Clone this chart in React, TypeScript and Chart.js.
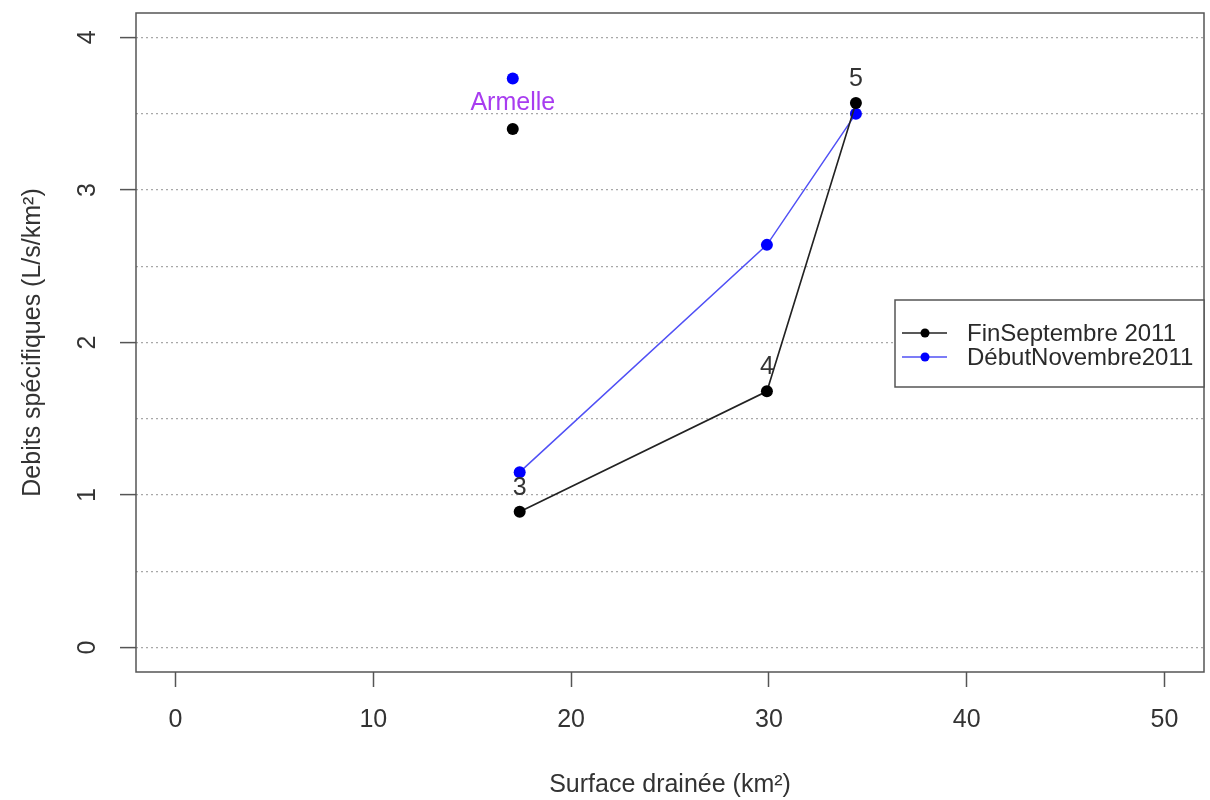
import React, { useEffect, useRef } from 'react';
import { Chart, registerables } from 'chart.js';

Chart.register(...registerables);

// ---- data ----
const surfaceKm2 = [17.4, 29.9, 34.4];
const finSeptembre2011 = [0.89, 1.68, 3.57];
const debutNovembre2011 = [1.15, 2.64, 3.5];
const stationLabels = ['3', '4', '5'];
const armelleSurface = 17.05;
const armelleFinSept = 3.4;
const armelleDebutNov = 3.73;
const armelleLabel = 'Armelle';
const seriesNames = ['FinSeptembre 2011', 'DébutNovembre2011'];
const xTicks = [0, 10, 20, 30, 40, 50];
const yTicks = [0, 1, 2, 3, 4];
const yGridLines = [0, 0.5, 1, 1.5, 2, 2.5, 3, 3.5, 4];
const xTitle = 'Surface drainée (km²)';
const yTitle = 'Debits spécifiques (L/s/km²)';

const FONT = '"Liberation Sans", Arial, sans-serif';
const FS = 25;

const decorPlugin = {
  id: 'decor',
  afterDraw(chart: any) {
    const { ctx, chartArea: a, scales } = chart;
    ctx.save();
    ctx.setLineDash([]);
    // plot box
    ctx.strokeStyle = '#555';
    ctx.lineWidth = 1.5;
    ctx.strokeRect(a.left, a.top, a.right - a.left, a.bottom - a.top);

    // station labels above black points
    ctx.font = `${FS}px ${FONT}`;
    ctx.textAlign = 'center';
    ctx.textBaseline = 'middle';
    ctx.fillStyle = '#333';
    stationLabels.forEach((l, i) => {
      const x = scales.x.getPixelForValue(surfaceKm2[i]);
      const y = scales.y.getPixelForValue(finSeptembre2011[i]);
      ctx.fillText(l, x, y - 24);
    });
    ctx.fillStyle = '#a83cf0';
    ctx.fillText(
      armelleLabel,
      scales.x.getPixelForValue(armelleSurface),
      scales.y.getPixelForValue(armelleFinSept) - 26
    );

    // legend
    const lx = 895, ly = 300, lw = a.right - 895, lh = 87;
    ctx.fillStyle = '#fff';
    ctx.fillRect(lx, ly, lw, lh);
    ctx.strokeStyle = '#555';
    ctx.lineWidth = 1.5;
    ctx.strokeRect(lx, ly, lw, lh);
    const items = chart.data.datasets.filter((d: any) => d.inLegend);
    items.forEach((d: any, i: number) => {
      const y = 333 + i * 24;
      ctx.strokeStyle = d.borderColor;
      ctx.lineWidth = 1.5;
      ctx.beginPath();
      ctx.moveTo(902, y);
      ctx.lineTo(947, y);
      ctx.stroke();
      ctx.fillStyle = d.pointBackgroundColor;
      ctx.beginPath();
      ctx.arc(925, y, 4.5, 0, Math.PI * 2);
      ctx.fill();
      ctx.fillStyle = '#2a2a2a';
      ctx.textAlign = 'left';
      ctx.textBaseline = 'middle';
      ctx.font = `24px ${FONT}`;
      ctx.fillText(d.label, 967, y + 1);
    });
    ctx.restore();
  },
};

export default function App() {
  const ref = useRef<HTMLCanvasElement | null>(null);

  useEffect(() => {
    if (!ref.current) return;
    const toPts = (xs: number[], ys: number[]) => xs.map((x, i) => ({ x, y: ys[i] }));
    const chart = new Chart(ref.current, {
      type: 'scatter',
      data: {
        datasets: [
          {
            label: seriesNames[0],
            inLegend: true,
            data: toPts(surfaceKm2, finSeptembre2011),
            showLine: true,
            borderColor: '#222',
            borderWidth: 1.6,
            pointBackgroundColor: '#000',
            pointBorderColor: '#000',
            pointRadius: 6,
            pointBorderWidth: 0,
          },
          {
            label: seriesNames[1],
            inLegend: true,
            data: toPts(surfaceKm2, debutNovembre2011),
            showLine: true,
            borderColor: '#5050f5',
            borderWidth: 1.5,
            pointBackgroundColor: '#0000ff',
            pointBorderColor: '#0000ff',
            pointRadius: 6,
            pointBorderWidth: 0,
          },
          {
            label: seriesNames[0] + ' ' + armelleLabel,
            data: [{ x: armelleSurface, y: armelleFinSept }],
            showLine: false,
            pointBackgroundColor: '#000',
            pointBorderColor: '#000',
            pointRadius: 6,
            pointBorderWidth: 0,
          },
          {
            label: seriesNames[1] + ' ' + armelleLabel,
            data: [{ x: armelleSurface, y: armelleDebutNov }],
            showLine: false,
            pointBackgroundColor: '#0000ff',
            pointBorderColor: '#0000ff',
            pointRadius: 6,
            pointBorderWidth: 0,
          },
        ] as any,
      },
      options: {
        responsive: false,
        maintainAspectRatio: false,
        devicePixelRatio: 1,
        animation: false,
        layout: { padding: { left: 0, top: 13, right: 5, bottom: 0 } },
        plugins: { legend: { display: false }, tooltip: { enabled: false } },
        scales: {
          x: {
            type: 'linear',
            position: 'bottom',
            min: -2,
            max: 52,
            afterBuildTicks: (s: any) => {
              s.ticks = xTicks.map((v) => ({ value: v }));
            },
            afterFit: (s: any) => {
              s.height = 128;
              s.paddingLeft = 0;
              s.paddingRight = 0;
            },
            border: { display: false },
            grid: {
              drawOnChartArea: false,
              drawTicks: true,
              tickLength: 15,
              tickColor: '#555',
              tickWidth: 1.5,
            },
            ticks: {
              color: '#333',
              font: { family: FONT, size: FS },
              padding: 18,
              maxRotation: 0,
              autoSkip: false,
              callback: (v: any) => String(v),
            },
            title: {
              display: true,
              text: xTitle,
              color: '#333',
              font: { family: FONT, size: FS },
              padding: { top: 0, bottom: 0 },
            },
          },
          y: {
            type: 'linear',
            position: 'left',
            min: -0.16,
            max: 4.16,
            afterBuildTicks: (s: any) => {
              s.ticks = yGridLines.map((v) => ({ value: v }));
            },
            afterFit: (s: any) => {
              s.width = 136;
              s.paddingTop = 0;
              s.paddingBottom = 0;
            },
            border: { display: false, dash: [2, 3] },
            grid: {
              drawOnChartArea: true,
              color: '#a8a8a8',
              lineWidth: 1.2,
              drawTicks: true,
              tickLength: 16,
              tickWidth: 1.5,
              tickColor: (c: any) => (yTicks.includes(c.tick?.value) ? '#555' : 'rgba(0,0,0,0)'),
            },
            ticks: {
              color: '#333',
              font: { family: FONT, size: FS },
              padding: 25,
              minRotation: 90,
              maxRotation: 90,
              crossAlign: 'center',
              autoSkip: false,
              callback: (v: any) => (yTicks.includes(v) ? String(v) : ''),
            },
            title: {
              display: true,
              text: yTitle,
              color: '#333',
              font: { family: FONT, size: FS },
              padding: { top: 18, bottom: 0 },
            },
          },
        },
      } as any,
      plugins: [decorPlugin],
    });
    return () => chart.destroy();
  }, []);

  return (
    <div style={{ position: 'absolute', left: 0, top: 0, width: 1210, height: 800, background: '#fff' }}>
      <canvas ref={ref} width={1210} height={800} style={{ display: 'block' }} />
    </div>
  );
}
